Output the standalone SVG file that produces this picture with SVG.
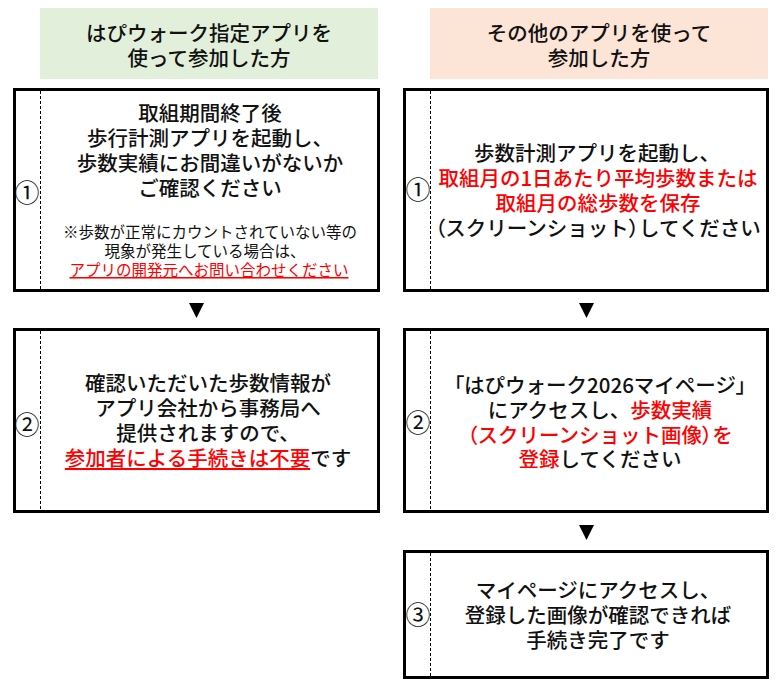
<svg xmlns="http://www.w3.org/2000/svg" width="776" height="686" viewBox="0 0 776 686">
<style>
.t{font-family:"Noto Sans CJK JP","Noto Sans",sans-serif;font-size:20.5px;fill:#111;text-anchor:middle;font-weight:500}
.b{font-weight:500}
.p{font-feature-settings:"palt"}
.n{font-family:"Noto Sans CJK JP","Noto Sans",sans-serif;font-size:15.5px;fill:#111;text-anchor:middle}
.num{font-family:"Noto Sans CJK JP",sans-serif;font-size:25px;fill:#111;text-anchor:middle}
.r{fill:#FF0000}
.box{fill:#fff;stroke:#000;stroke-width:3}
.dash{stroke:#000;stroke-width:1;stroke-dasharray:3 2}
.arr{fill:#000}
</style>
<rect width="776" height="686" fill="#fff"/>
<g id="header-left">
<rect x="40" y="8" width="338" height="71" fill="#E2EFDA"/>
<text class="t" x="209" y="41">はぴウォーク指定アプリを</text>
<text class="t" x="209" y="66">使って参加した方</text>
</g>
<g id="header-right">
<rect x="430" y="8" width="338" height="71" fill="#FCE4D6"/>
<text class="t" x="599" y="41">その他のアプリを使って</text>
<text class="t" x="599" y="66">参加した方</text>
</g>
<g id="left-step1">
<rect class="box" x="14.5" y="89.5" width="364" height="201"/>
<line class="dash" x1="40.5" y1="91" x2="40.5" y2="289"/>
<text class="num" x="27" y="202">①</text>
<text class="t b" x="210" y="121">取組期間終了後</text>
<text class="t b" x="210" y="146">歩行計測アプリを起動し、</text>
<text class="t b" x="210" y="171">歩数実績にお間違いがないか</text>
<text class="t b" x="210" y="196">ご確認ください</text>
<text class="n" x="210" y="238">※歩数が正常にカウントされていない等の</text>
<text class="n" x="205" y="257">現象が発生している場合は、</text>
<text class="n r" x="209" y="276" text-decoration="underline">アプリの開発元へお問い合わせください</text>
</g>
<g id="left-step2">
<rect class="box" x="14.5" y="329.5" width="364" height="182"/>
<line class="dash" x1="40.5" y1="331" x2="40.5" y2="510"/>
<text class="num" x="27" y="434">②</text>
<text class="t b" x="208" y="391">確認いただいた歩数情報が</text>
<text class="t b" x="208" y="416">アプリ会社から事務局へ</text>
<text class="t b" x="208" y="441">提供されますので、</text>
<text class="t b" x="208" y="466"><tspan class="r" text-decoration="underline">参加者による手続きは不要</tspan>です</text>
</g>
<g id="right-step1">
<rect class="box" x="404.5" y="89.5" width="363" height="201"/>
<line class="dash" x1="430.5" y1="91" x2="430.5" y2="289"/>
<text class="num" x="418" y="199">①</text>
<text class="t b" x="597" y="161">歩数計測アプリを起動し、</text>
<text class="t b r" x="598" y="186">取組月の1日あたり平均歩数または</text>
<text class="t b r" x="598" y="211">取組月の総歩数を保存</text>
<text class="t b" x="598" y="236"><tspan class="p">（</tspan>スクリーンショット<tspan class="p">）</tspan>してください</text>
</g>
<g id="right-step2">
<rect class="box" x="404.5" y="329.5" width="363" height="182"/>
<line class="dash" x1="430.5" y1="331" x2="430.5" y2="510"/>
<text class="num" x="418" y="432">②</text>
<text class="t b" x="600" y="393"><tspan class="p">「</tspan>はぴウォーク2026マイページ<tspan class="p">」</tspan></text>
<text class="t b" x="600" y="418">にアクセスし、<tspan class="r">歩数実績</tspan></text>
<text class="t b r" x="600" y="443"><tspan class="p">（</tspan>スクリーンショット画像<tspan class="p">）</tspan>を</text>
<text class="t b" x="600" y="467"><tspan class="r">登録</tspan>してください</text>
</g>
<g id="right-step3">
<rect class="box" x="404.5" y="551.5" width="363" height="126"/>
<line class="dash" x1="430.5" y1="553" x2="430.5" y2="676"/>
<text class="num" x="418" y="624">③</text>
<text class="t b" x="598" y="598">マイページにアクセスし、</text>
<text class="t b" x="598" y="623">登録した画像が確認できれば</text>
<text class="t b" x="598" y="648">手続き完了です</text>
</g>
<g id="connectors">
<polygon class="arr" points="189,303 204,303 196.5,318"/>
<polygon class="arr" points="579,303 594,303 586.5,318"/>
<polygon class="arr" points="579,525 594,525 586.5,540"/>
</g>
</svg>
